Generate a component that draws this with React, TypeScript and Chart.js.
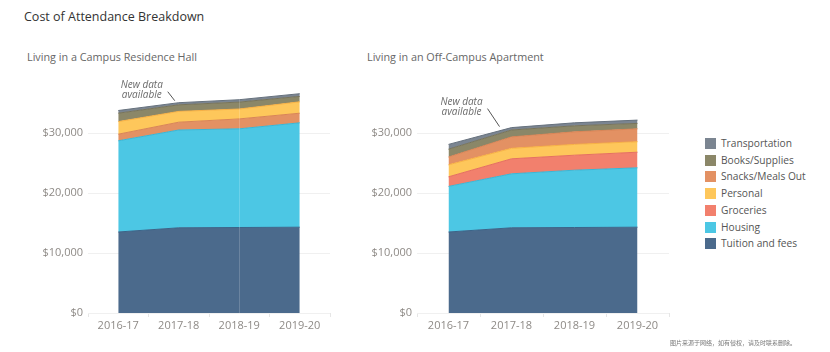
import React, { useEffect, useRef } from 'react';
import { Chart, registerables } from 'chart.js';
Chart.register(...registerables);

const years = ['2016-17', '2017-18', '2018-19', '2019-20'];
const yTickValues = [0, 10000, 20000, 30000];

// Living in a Campus Residence Hall
const campusTuition = [13500, 14200, 14250, 14300];
const campusHousing = [15200, 16300, 16450, 17400];
const campusSnacks = [1100, 1300, 1650, 1600];
const campusPersonal = [2100, 1800, 1650, 1900];
const campusBooks = [1400, 1100, 1150, 900];
const campusTransport = [450, 350, 400, 450];

// Living in an Off-Campus Apartment
const offTuition = [13500, 14200, 14250, 14300];
const offHousing = [7600, 9000, 9550, 9900];
const offGroceries = [1600, 2500, 2500, 2600];
const offPersonal = [2000, 1750, 1800, 1750];
const offSnacks = [1300, 1900, 2100, 2150];
const offBooks = [1300, 1150, 1000, 900];
const offTransport = [800, 400, 500, 550];

const legendItems = ['Transportation', 'Books/Supplies', 'Snacks/Meals Out', 'Personal', 'Groceries', 'Housing', 'Tuition and fees'];

const fillColors: Record<string, string> = {
  'Transportation': '#7b8591',
  'Books/Supplies': '#8b8768',
  'Snacks/Meals Out': '#e39163',
  'Personal': '#fec75b',
  'Groceries': '#f2806d',
  'Housing': '#4cc7e4',
  'Tuition and fees': '#4b6a8c',
};
const lineColors: Record<string, string> = {
  'Transportation': '#66717d',
  'Books/Supplies': '#77735a',
  'Snacks/Meals Out': '#d98455',
  'Personal': '#f7b043',
  'Groceries': '#e5705f',
  'Housing': '#3bb5d4',
  'Tuition and fees': '#3a6489',
};

const FONT = "'Open Sans', 'Noto Sans', sans-serif";

type Series = { name: string; data: number[] };

const campusSeries: Series[] = [
  { name: 'Tuition and fees', data: campusTuition },
  { name: 'Housing', data: campusHousing },
  { name: 'Snacks/Meals Out', data: campusSnacks },
  { name: 'Personal', data: campusPersonal },
  { name: 'Books/Supplies', data: campusBooks },
  { name: 'Transportation', data: campusTransport },
];
const offSeries: Series[] = [
  { name: 'Tuition and fees', data: offTuition },
  { name: 'Housing', data: offHousing },
  { name: 'Groceries', data: offGroceries },
  { name: 'Personal', data: offPersonal },
  { name: 'Snacks/Meals Out', data: offSnacks },
  { name: 'Books/Supplies', data: offBooks },
  { name: 'Transportation', data: offTransport },
];

type Note = { textDx: number; textDy1: number; textDy2: number; lineDx1: number; lineDy1: number; lineDx2: number; lineDy2: number };

function AreaChart({ series, note, left, width, markIndex }: { series: Series[]; note: Note; left: number; width: number; markIndex: number }) {
  const ref = useRef<HTMLCanvasElement | null>(null);
  useEffect(() => {
    if (!ref.current) return;
    const notePlugin = {
      id: 'note',
      afterDatasetsDraw(chart: any) {
        const ctx = chart.ctx;
        const xs = chart.scales.x;
        const ys = chart.scales.y;
        ctx.save();
        if (markIndex >= 0) {
          const mx = Math.round(xs.getPixelForValue(markIndex)) + 0.5;
          const mTotal = series.reduce((s, d) => s + d.data[markIndex], 0);
          ctx.strokeStyle = 'rgba(255,255,255,0.18)';
          ctx.lineWidth = 1;
          ctx.beginPath();
          ctx.moveTo(mx, ys.getPixelForValue(mTotal));
          ctx.lineTo(mx, ys.getPixelForValue(0));
          ctx.stroke();
        }
        const total = series.reduce((s, d) => s + d.data[1], 0);
        const px = xs.getPixelForValue(1);
        const py = ys.getPixelForValue(total);
        ctx.font = `italic 10px ${FONT}`;
        ctx.fillStyle = '#6b6b6b';
        ctx.textAlign = 'center';
        ctx.textBaseline = 'middle';
        ctx.fillText('New data', px + note.textDx, py + note.textDy1);
        ctx.fillText('available', px + note.textDx, py + note.textDy2);
        ctx.strokeStyle = '#555';
        ctx.lineWidth = 1;
        ctx.beginPath();
        ctx.moveTo(px + note.lineDx1, py + note.lineDy1);
        ctx.lineTo(px + note.lineDx2, py + note.lineDy2);
        ctx.stroke();
        ctx.restore();
      },
    };
    const chart = new Chart(ref.current, {
      type: 'line',
      data: {
        labels: years,
        datasets: series.map((s, i) => ({
          label: s.name,
          data: s.data,
          backgroundColor: fillColors[s.name],
          borderColor: lineColors[s.name],
          borderWidth: 1,
          pointRadius: 0,
          tension: 0,
          fill: i === 0 ? 'origin' : '-1',
        })),
      },
      options: {
        animation: false,
        responsive: false,
        devicePixelRatio: 1,
        layout: { padding: { top: 73, right: 10, left: 0, bottom: 0 } },
        plugins: { legend: { display: false }, tooltip: { enabled: false } },
        scales: {
          x: {
            type: 'category',
            offset: true,
            grid: { offset: true, drawOnChartArea: false, drawTicks: true, tickLength: 4, color: '#e6e6e6' },
            border: { display: false },
            ticks: { color: '#8e8a86', font: { family: FONT, size: 11 }, padding: 2, maxRotation: 0 },
            afterFit: (s: any) => { s.height = 27; },
          },
          y: {
            stacked: true,
            min: 0,
            max: 40000,
            afterBuildTicks: (s: any) => { s.ticks = yTickValues.map((v) => ({ value: v })); },
            grid: { color: '#f0f0f0', drawTicks: false },
            border: { display: false },
            ticks: {
              color: '#8e8a86',
              font: { family: FONT, size: 11 },
              padding: 5,
              callback: (v: any) => '$' + Number(v).toLocaleString('en-US'),
            },
            afterFit: (s: any) => { s.width = 88; },
          },
        },
      } as any,
      plugins: [notePlugin],
    });
    return () => chart.destroy();
  }, []);
  return (
    <canvas
      ref={ref}
      width={width}
      height={340}
      style={{ position: 'absolute', left, top: 0, width, height: 340 }}
    />
  );
}

export default function App() {
  return (
    <div style={{ position: 'absolute', left: 0, top: 0, width: 830, height: 352, background: '#fff', overflow: 'hidden', fontFamily: FONT }}>
      <div style={{ position: 'absolute', left: 24, top: 8, fontSize: 12.5, lineHeight: '18px', color: '#333' }}>
        Cost of Attendance Breakdown
      </div>
      <div style={{ position: 'absolute', left: 27, top: 49, fontSize: 10.8, lineHeight: '16px', color: '#666' }}>
        Living in a Campus Residence Hall
      </div>
      <div style={{ position: 'absolute', left: 367, top: 49, fontSize: 10.8, lineHeight: '16px', color: '#666' }}>
        Living in an Off-Campus Apartment
      </div>
      <AreaChart
        series={campusSeries}
        left={0}
        width={340}
        markIndex={2}
        note={{ textDx: -37, textDy1: -18, textDy2: -8, lineDx1: -11, lineDy1: -11, lineDx2: -4, lineDy2: -2 }}
      />
      <AreaChart
        series={offSeries}
        left={329}
        width={350}
        markIndex={-1}
        note={{ textDx: -50, textDy1: -25, textDy2: -15, lineDx1: -24, lineDy1: -19, lineDx2: -12, lineDy2: -1 }}
      />
      <div style={{ position: 'absolute', left: 705, top: 138 }}>
        {legendItems.map((name, i) => (
          <div key={name} style={{ position: 'absolute', left: 0, top: i * 16.7, height: 12, width: 120, whiteSpace: 'nowrap' }}>
            <div style={{ position: 'absolute', left: 0, top: 0, width: 11, height: 11, background: fillColors[name] }} />
            <div style={{ position: 'absolute', left: 16, top: -3, fontSize: 10.2, lineHeight: '16px', color: '#555' }}>{name}</div>
          </div>
        ))}
      </div>
      <div style={{ position: 'absolute', left: 670, top: 339, fontSize: 6, lineHeight: '8px', color: '#777', whiteSpace: 'nowrap', fontFamily: "'Noto Sans CJK SC', sans-serif" }}>
        图片来源于网络，如有侵权，请及时联系删除。
      </div>
    </div>
  );
}
